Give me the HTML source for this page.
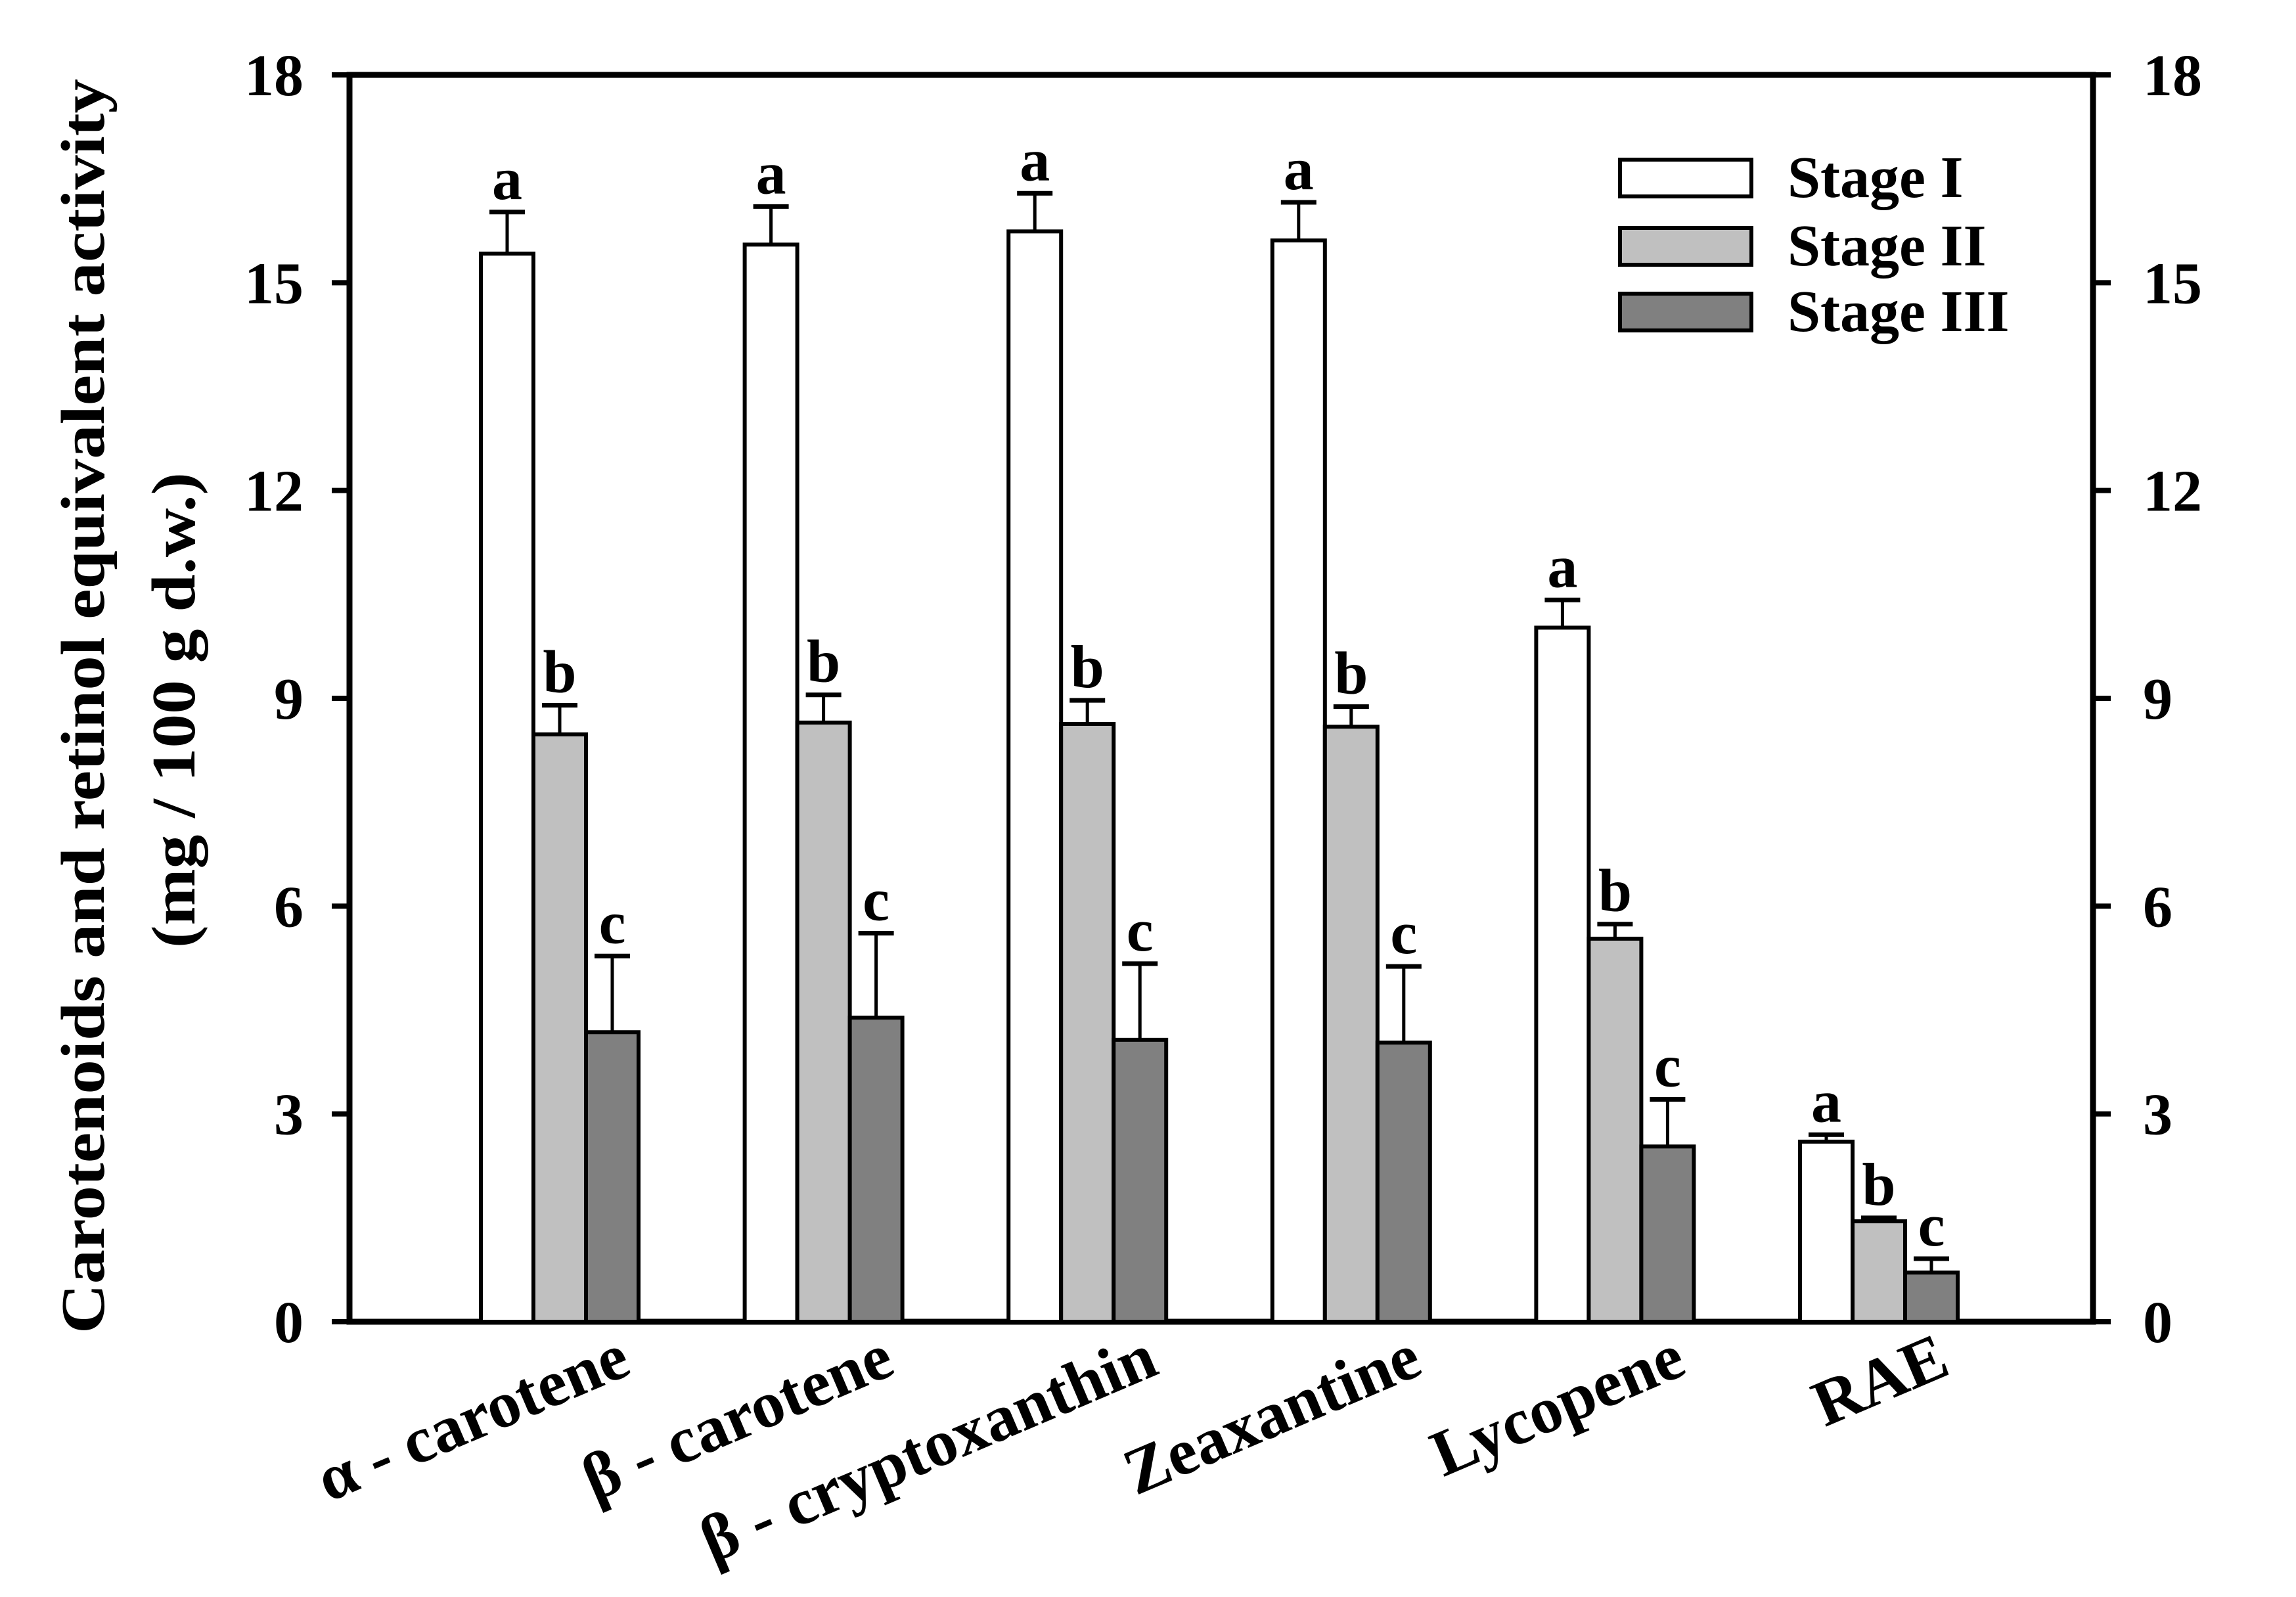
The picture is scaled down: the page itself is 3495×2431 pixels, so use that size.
<!DOCTYPE html>
<html><head><meta charset="utf-8"><style>
html,body{margin:0;padding:0;background:#fff;}
svg{display:block;}
text{font-family:"Liberation Serif",serif;font-weight:bold;fill:#000;}
</style></head><body>
<svg id="chart" width="3495" height="2431" viewBox="0 0 3495 2431" xmlns="http://www.w3.org/2000/svg">
<g id="axes"></g>
<g id="bars"></g>
<g id="labels"></g>
</svg>
<script>
const categories = ["α - carotene","β - carotene","β - cryptoxanthin","Zeaxantine","Lycopene","RAE"];
const seriesNames = ["Stage I","Stage II","Stage III"];
const stage1 = [15.42,15.55,15.74,15.61,10.02,2.60];
const stage2 = [8.48,8.65,8.63,8.59,5.53,1.45];
const stage3 = [4.18,4.39,4.07,4.03,2.53,0.71];
const err1 = [0.60,0.55,0.55,0.55,0.40,0.10];
const err2 = [0.42,0.40,0.34,0.29,0.21,0.05];
const err3 = [1.10,1.22,1.10,1.10,0.68,0.20];
const letters1 = ["a","a","a","a","a","a"];
const letters2 = ["b","b","b","b","b","b"];
const letters3 = ["c","c","c","c","c","c"];
const yTicks = [0,3,6,9,12,15,18];

const NS="http://www.w3.org/2000/svg";
const L=532, R=3186, T=114, B=2012, YMAX=18;
const y = v => B - v/YMAX*(B-T);
const groupX = i => 732 + i*401.6;
const barW = 80;
const fills = ["#ffffff","#c0c0c0","#808080"];
function mk(tag, attrs, parent){const e=document.createElementNS(NS,tag);for(const k in attrs)e.setAttribute(k,attrs[k]);parent.appendChild(e);return e;}
const axes=document.getElementById('axes'), bars=document.getElementById('bars'), labels=document.getElementById('labels');

const vals=[stage1,stage2,stage3], errs=[err1,err2,err3], lets=[letters1,letters2,letters3];
categories.forEach((c,i)=>{
  for(let s=0;s<3;s++){
    const x0=groupX(i)+s*barW, v=vals[s][i], e=errs[s][i], cx=x0+barW/2;
    const et=y(v+e);
    const st=mk('line',{x1:cx,x2:cx,y1:y(v),y2:et,stroke:'#000','stroke-width':5},bars);
    
    
    const cap=mk('line',{x1:cx-27,x2:cx+27,y1:et,y2:et,stroke:'#000','stroke-width':7},bars);
    
    
    const r=mk('rect',{x:x0,y:y(v),width:barW,height:B-y(v),fill:fills[s],stroke:'#000','stroke-width':6},bars);
    
    
    const t=mk('text',{x:cx,y:et-20,'text-anchor':'middle','font-size':92},labels);
    t.textContent=lets[s][i];
    
    
  }
  const cxg=groupX(i)+120+112;
  const xl=mk('text',{x:cxg,y:2090,'text-anchor':'end','font-size':100,transform:`rotate(-23 ${cxg} 2090)`},labels);
  xl.textContent=c;
  
  
});

const fr=mk('path',{d:`M${L} ${T} H${R} V${B} H${L} Z`,fill:'none',stroke:'#000','stroke-width':9},axes);


yTicks.forEach(v=>{
  const yy=y(v);
  const tl=mk('line',{x1:L-27,x2:L,y1:yy,y2:yy,stroke:'#000','stroke-width':8},axes);
  
  
  const tr=mk('line',{x1:R,x2:R+27,y1:yy,y2:yy,stroke:'#000','stroke-width':8},axes);
  
  
  const a=mk('text',{x:462,y:yy+31,'text-anchor':'end','font-size':90},axes);
  a.textContent=v;
  
  
  const b=mk('text',{x:3262,y:yy+31,'text-anchor':'start','font-size':90},axes);
  b.textContent=v;
  
  
});

const t1=mk('text',{x:0,y:0,'text-anchor':'middle','font-size':94,textLength:1910,lengthAdjust:'spacingAndGlyphs',transform:'translate(158 1075) rotate(-90)'},labels);
t1.textContent="Carotenoids and retinol equivalent activity";


const t2=mk('text',{x:0,y:0,'text-anchor':'middle','font-size':94,textLength:724,lengthAdjust:'spacingAndGlyphs',transform:'translate(296 1081) rotate(-90)'},labels);
t2.textContent="(mg / 100 g d.w.)";



const legY=[243,347,447];
seriesNames.forEach((n,s)=>{
  const r=mk('rect',{x:2466,y:legY[s],width:200,height:56,fill:fills[s],stroke:'#000','stroke-width':6},labels);
  
  
  const t=mk('text',{x:2721,y:legY[s]+57,'font-size':90},labels);
  t.textContent=n;
  
  
});
</script>
</body></html>
